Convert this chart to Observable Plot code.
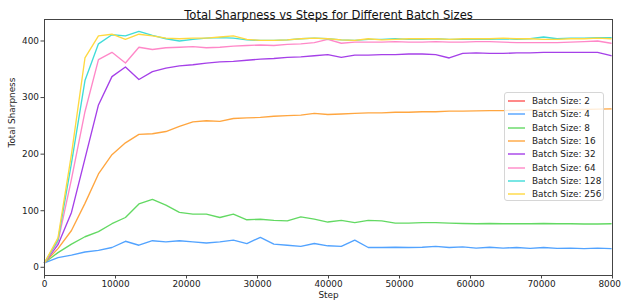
<!DOCTYPE html>
<html><head><meta charset="utf-8">
<script src="https://cdn.jsdelivr.net/npm/d3@7"></script>
<script src="https://cdn.jsdelivr.net/npm/@observablehq/plot@0.6"></script>
<style>
body{margin:0;background:#fff;}
#wrap{position:relative;width:621px;height:302px;font-family:"DejaVu Sans",sans-serif;overflow:hidden;}
#legend{position:absolute;left:504px;top:92px;width:100px;height:109px;border:1px solid #d6d6d6;border-radius:3px;background:rgba(255,255,255,0.8);box-sizing:border-box;padding-top:1.5px;}
.row{height:13.3px;display:flex;align-items:center;font-size:8.9px;color:#222;white-space:nowrap;}
.row svg{margin-left:3px;margin-right:7px;}
</style></head><body><div id="wrap"></div>
<script>
const titleText = "Total Sharpness vs Steps for Different Batch Sizes";
const xLabel = "Step";
const yLabel = "Total Sharpness";
const xTicks = [0,10000,20000,30000,40000,50000,60000,70000,80000];
const yTicks = [0,100,200,300,400];
const batchSizes = [2,4,8,16,32,64,128,256];
const colors = ["#ff5757","#52a3ff","#63d963","#ffa640","#a540e8","#ff88c8","#40dcd8","#ffd940"];
const steps = [0,1900,3800,5700,7600,9500,11400,13300,15200,17100,19000,20900,22800,24700,26600,28500,30400,32300,34200,36100,38000,39900,41800,43700,45600,47500,49400,51300,53200,55100,57000,58900,60800,62700,64600,66500,68400,70300,72200,74100,76000,77900,79800];
const bs2 = [];
const bs4 = [8,17,21.5,27,30,35,46,39,47,45,47,45,43,45,48,42,53,41,39,37,42,38,37,48,35,35,35.5,35,35.5,37,35,36,34,35.5,34,35,33.5,35,33.5,34,33,34,33];
const bs8 = [8,26,41,54,63,77,88,112,120,110,97,94,94,88,94,84,85,83,82,89,85,80,83,79,83,82,78,78,79,79,78,77.5,77,77.5,77,77,77,77.5,77,77,76.5,76.5,77];
const bs16 = [8,33,65,113,165,199,220,235,236,240,249,257,259,258,263,264,265,267,268,269,272,270,271,272,273,273,274,274,275,275,276,276,276.5,277,277,277.5,278,278,278.5,279,279,279.5,280];
const bs32 = [8,40,97,192,287,337,354,332,346,352,356,358,361,363,364,366,368,369,371,372,374,376,371,375,375,376,376,377,377,376,370,378,379,378,378,379,379,380,380,380,380,380,374];
const bs64 = [8,45,156,275,367,380,361,389,385,388,389,390,388,389,391,392,393,392,394,395,397,403,396,398,398,398,399,398,398,399,398,398,399,399,398,397,397,397,397,398,399,400,396];
const bs128 = [8,48,184,330,395,411,409,417,410,404,400,403,405,406,405,402,401,401,402,404,405,404,402,401,403,403,404,403,403,404,403,403,403,403,404,403,404,407,404,405,405,406,406];
const bs256 = [8,52,200,370,409,412,403,412,409,405,404,405,405,407,409,403,401,401,402,404,405,404,402,401,404,402,403,404,404,404,403,404,404,404,405,404,404,403,403,404,404,405,404];

const seriesValues = [bs2,bs4,bs8,bs16,bs32,bs64,bs128,bs256];
const labels = batchSizes.map(b => `Batch Size: ${b}`);
const rows = [];
seriesValues.forEach((vals, i) => vals.forEach((v, j) => rows.push({step: steps[j], value: v, label: labels[i]})));

const chart = Plot.plot({
  width: 621, height: 302,
  marginLeft: 44, marginRight: 9, marginTop: 19, marginBottom: 27,
  style: {fontFamily: "DejaVu Sans, sans-serif", fontSize: "8.9px", color: "#222", background: "#fff", overflow: "visible"},
  x: {domain: [0, 80000]},
  y: {domain: [-14.5, 438]},
  color: {domain: labels, range: colors},
  marks: [
    Plot.line(rows, {x: "step", y: "value", z: "label", stroke: "label", strokeWidth: 1.35}),
    Plot.frame({stroke: "#444", strokeWidth: 1}),
    Plot.axisX({ticks: xTicks, tickFormat: d3.format("d"), tickSize: 3.5, tickPadding: 2, label: null, stroke: "#444"}),
    Plot.axisY({ticks: yTicks, tickFormat: d3.format("d"), tickSize: 3.5, tickPadding: 2, label: null, stroke: "#444"}),
    Plot.text([titleText], {frameAnchor: "top", dy: -9, fontSize: 11.6, fill: "#111"}),
    Plot.text([xLabel], {frameAnchor: "bottom", dy: 22, fontSize: 8.9, fill: "#222"}),
    Plot.text([yLabel], {frameAnchor: "left", dx: -32, rotate: -90, fontSize: 8.9, fill: "#222"})
  ]
});
const wrap = document.getElementById("wrap");
wrap.appendChild(chart);

const legend = document.createElement("div");
legend.id = "legend";
labels.forEach((lab, i) => {
  const r = document.createElement("div");
  r.className = "row";
  r.innerHTML = `<svg width="17" height="4"><line x1="0" y1="2" x2="17" y2="2" stroke="${colors[i]}" stroke-width="1.4"/></svg><span>${lab}</span>`;
  legend.appendChild(r);
});
wrap.appendChild(legend);
</script>
</body></html>
